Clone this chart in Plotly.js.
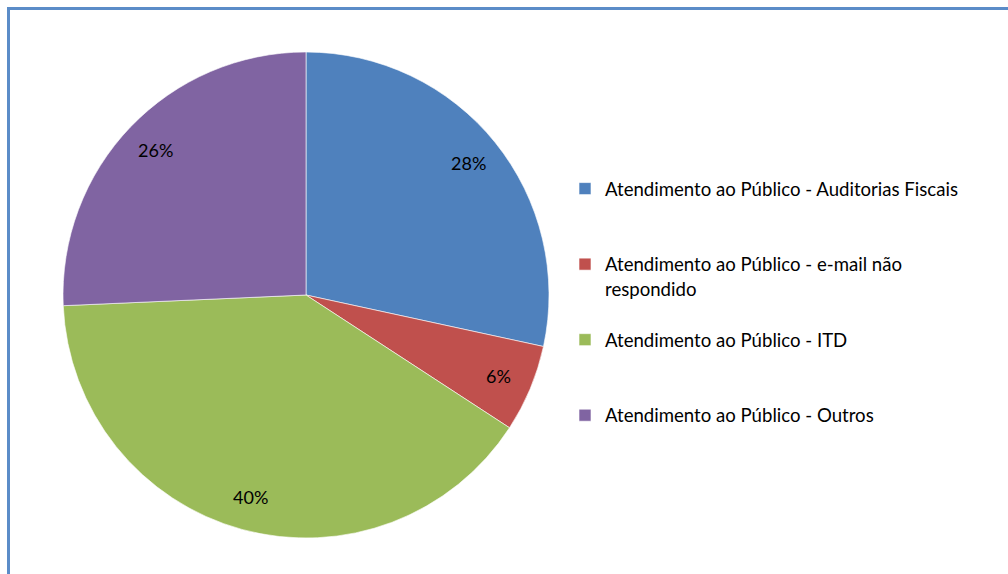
<!DOCTYPE html>
<html>
<head>
<meta charset="utf-8">
<script src="https://cdn.plot.ly/plotly-3.0.1.min.js"></script>
<style>
  html, body { margin: 0; padding: 0; background: #ffffff; overflow: hidden; }
  #frame { position: absolute; left: 7px; top: 7px; width: 1100px; height: 700px;
           border-top: 3px solid #5B8CC8; border-left: 3px solid #5B8CC8; }
  #chart { position: absolute; left: 0; top: 0; width: 1008px; height: 574px; }
</style>
</head>
<body>
<div id="frame"></div>
<div id="chart"></div>
<script>
const categories = [
  "Atendimento ao Público - Auditorias Fiscais",
  "Atendimento ao Público - e-mail não<br>respondido",
  "Atendimento ao Público - ITD",
  "Atendimento ao Público - Outros"
];
const shares = [28.4, 5.8, 40.1, 25.7];
const sliceColors = ["#4F81BD", "#C0504D", "#9BBB59", "#8064A2"];

// pad legend entries so they are spaced evenly like the original
const legendLabels = categories.map(c => {
  const lines = c.split("<br>").length;
  let s = c;
  for (let i = lines; i < 3; i++) s += "<br> ";
  return s;
});

const W = 1008, H = 574;
const FONT = "Lato, 'Open Sans', sans-serif";
const dom = { x: [63 / W, 549 / W], y: [1 - 539 / H, 1 - 51 / H] };

const trace = {
  type: "pie",
  labels: legendLabels,
  values: shares,
  sort: false,
  direction: "clockwise",
  rotation: 0,
  marker: { colors: sliceColors, line: { color: "rgba(255,255,255,0.6)", width: 1 } },
  textposition: "none",
  hoverinfo: "none",
  domain: dom
};

// percentage labels placed along each slice's bisector, near the rim
const total = shares.reduce((a, b) => a + b, 0);
const cx = (dom.x[0] + dom.x[1]) / 2, cy = (dom.y[0] + dom.y[1]) / 2;
const rx = (dom.x[1] - dom.x[0]) / 2, ry = (dom.y[1] - dom.y[0]) / 2;
const labelRadius = 0.86;
let cum = 0;
const annotations = shares.map(v => {
  const mid = (cum + v / 2) / total * 2 * Math.PI;
  cum += v;
  return {
    xref: "paper", yref: "paper",
    xanchor: "center", yanchor: "middle",
    x: cx + labelRadius * rx * Math.sin(mid),
    y: cy + labelRadius * ry * Math.cos(mid),
    text: Math.round(v / total * 100) + "%",
    showarrow: false,
    font: { family: FONT, size: 18, color: "#000000" }
  };
});

const layout = {
  width: W, height: H,
  margin: { l: 0, r: 0, t: 0, b: 0 },
  paper_bgcolor: "rgba(0,0,0,0)",
  plot_bgcolor: "rgba(0,0,0,0)",
  showlegend: true,
  annotations: annotations,
  legend: {
    x: 565 / W, y: 1 - 170 / H, xanchor: "left", yanchor: "top",
    valign: "top",
    font: { family: FONT, size: 18.6, color: "#000000" },
    itemwidth: 30, bgcolor: "rgba(0,0,0,0)"
  }
};

Plotly.newPlot("chart", [trace], layout, { displayModeBar: false, staticPlot: true });
</script>
</body>
</html>
